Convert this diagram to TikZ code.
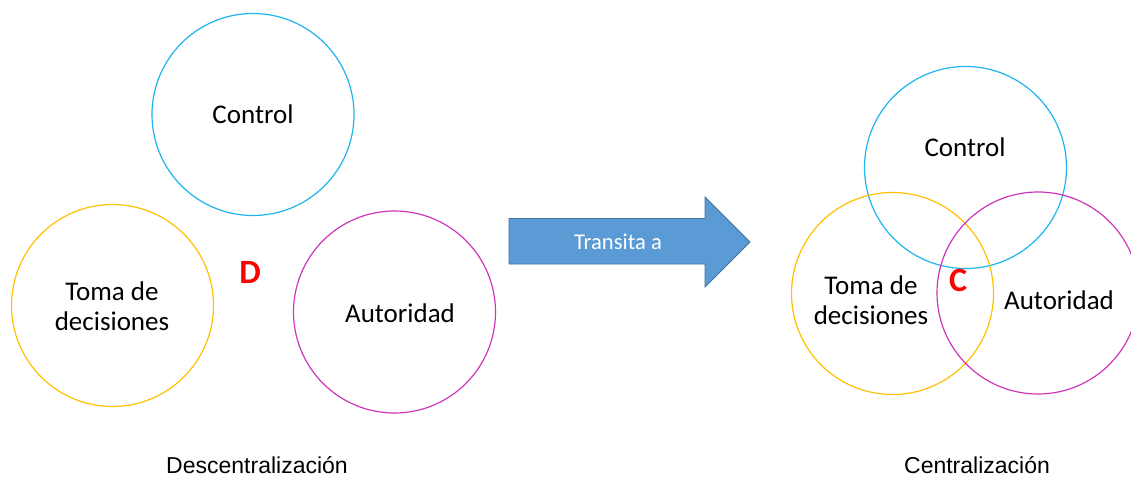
\documentclass[tikz,border=0pt]{standalone}
\usepackage{fontspec}
\setmainfont{Carlito}
\newfontfamily\arialfont{Liberation Sans}
\usetikzlibrary{calc,positioning}

\definecolor{ctrlblue}{RGB}{30,180,238}
\definecolor{tomagold}{RGB}{255,192,0}
\definecolor{autpink}{RGB}{206,54,186}
\definecolor{arrowfill}{RGB}{91,155,213}
\definecolor{arrowline}{RGB}{65,113,156}

\tikzset{
	ring/.style={circle, draw=#1, line width=1.2pt, minimum size=202pt, inner sep=0pt},
	lbl/.style={font=\fontsize{27}{30}\selectfont, align=center, inner sep=0pt},
	letter/.style={font=\fontsize{34}{34}\selectfont\bfseries, text=red, inner sep=0pt},
	caption/.style={font=\arialfont\fontsize{23}{26}\selectfont, inner sep=0pt}
}

\begin{document}
\begin{tikzpicture}[x=1pt, y=-1pt]
		\useasboundingbox (0,0) rectangle (1131,478);

		% descentralizacion
		\coordinate (CL) at (253,114.5);
		\coordinate (TL) at (112.5,305.5);
		\coordinate (AL) at (394.5,312);
		\node[ring=ctrlblue] (ctrlL) at (CL) {};
		\node[ring=tomagold] (tomaL) at (TL) {};
		\node[ring=autpink] (autL) at (AL) {};
		\node[lbl] (ctrlLtxt) at (253,114) {Control};
		\node[lbl] (tomaLtxt) at (112,306) {Toma de\\decisiones};
		\node[lbl] (autLtxt) at (400,313) {Autoridad};
		\node[letter] (D) at (250,272) {D};
		\node[caption] (descL) at (257,465) {Descentralización};

		% flecha
		\coordinate (P1) at (509,218.5);
		\coordinate (P2) at (705,218.5);
		\coordinate (P3) at (705,197);
		\coordinate (Tip) at (750,242);
		\draw[arrowline, fill=arrowfill, line width=0.8pt] (P1) -- (P2) -- (P3) -- (Tip)
			-- (705,287) -- (705,264) -- (509,264) -- cycle;
		\node[lbl, font=\fontsize{22.6}{26}\selectfont, text=white] (trans) at (618,242) {Transita a};

		% centralizacion
		\coordinate (CR) at (965.5,167.5);
		\coordinate (TR) at (892.5,293.5);
		\coordinate (AR) at (1038,293);
		\node[ring=ctrlblue] (ctrlR) at (CR) {};
		\node[ring=tomagold] (tomaR) at (TR) {};
		\node[ring=autpink] (autR) at (AR) {};
		\node[lbl] (ctrlRtxt) at (965,147) {Control};
		\node[lbl] (tomaRtxt) at (871,300) {Toma de\\decisiones};
		\node[lbl] (autRtxt) at (1059,300) {Autoridad};
		\node[letter] (C) at (958,280) {C};
		\node[caption] (centR) at (977,465) {Centralización};
	\end{tikzpicture}
\end{document}
